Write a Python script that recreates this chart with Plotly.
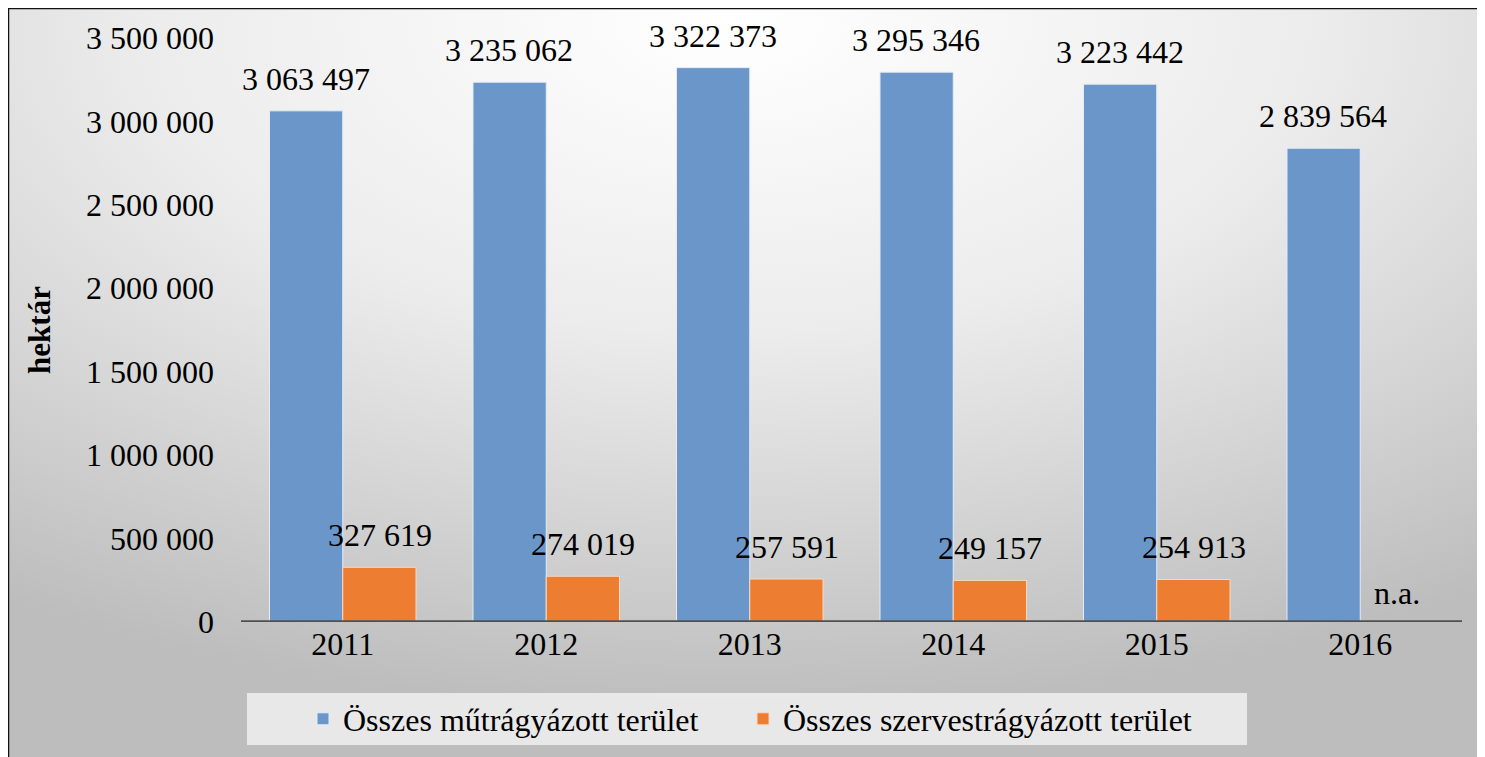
import base64
import plotly.graph_objects as go

years = ["2011", "2012", "2013", "2014", "2015", "2016"]
mutragya = [3063497, 3235062, 3322373, 3295346, 3223442, 2839564]
szerves = [327619, 274019, 257591, 249157, 254913, None]
name_mutragya = "Összes műtrágyázott terület"
name_szerves = "Összes szervestrágyázott terület"
ytick_vals = [0, 500000, 1000000, 1500000, 2000000, 2500000, 3000000, 3500000]

blue = "#6a96c9"
orange = "#ed7d31"
font = "Liberation Serif, Times New Roman, serif"

# the page body adds an 8px margin, so figure coords = screen coords - 8
OFF = 8
W, H = 1485, 757
plot_x0, plot_x1 = 241 - OFF, 1462 - OFF
plot_y0, plot_y1 = 38 - OFF, 622 - OFF
L, R, T, B = plot_x0, W - plot_x1, plot_y0, H - plot_y1
pw, ph = plot_x1 - plot_x0, plot_y1 - plot_y0


def px2paper(x, y):
    # screen pixel -> paper coords
    return (x - OFF - L) / pw, (plot_y1 - (y - OFF)) / ph


def fmt(v):
    return f"{v:,}".replace(",", " ")


# radial gradient background for the framed area
svg = (
    '<svg xmlns="http://www.w3.org/2000/svg" width="1000" height="500" preserveAspectRatio="none">'
    '<defs><radialGradient id="g" cx="0.47" cy="0.02" r="0.85" fx="0.47" fy="0.02">'
    '<stop offset="0" stop-color="#ffffff"/>'
    '<stop offset="0.45" stop-color="#ececec"/>'
    '<stop offset="1" stop-color="#bdbdbd"/>'
    '</radialGradient></defs>'
    '<rect width="1000" height="500" fill="url(#g)"/></svg>'
)
svg_uri = "data:image/svg+xml;base64," + base64.b64encode(svg.encode()).decode()

fig = go.Figure()
fig.add_trace(go.Bar(x=years, y=mutragya, name=name_mutragya, legend="legend",
                     marker=dict(color=blue, line=dict(color="#e6ecf5", width=1))))
fig.add_trace(go.Bar(x=years, y=szerves, name=name_szerves, legend="legend2",
                     marker=dict(color=orange, line=dict(color="#f7d9c4", width=1))))

# value labels (x given as category index so numeric-looking years are not misread)
annotations = []
for i, v in enumerate(mutragya):
    annotations.append(dict(x=i, y=v, text=fmt(v), showarrow=False, xshift=-37,
                            yanchor="bottom", yshift=12, font=dict(size=32, color="black")))
for i, v in enumerate(szerves):
    annotations.append(dict(x=i, y=v if v is not None else 0,
                            text=fmt(v) if v is not None else "n.a.",
                            showarrow=False, xshift=37,
                            yanchor="bottom", yshift=12 if v is not None else 9,
                            font=dict(size=32, color="black")))

fx0, fy0 = px2paper(8, 8)
fx1, fy1 = px2paper(W + 60, H + 60)
lx0, ly0 = px2paper(247, 693)
lx1, ly1 = px2paper(1247, 745)
leg1_x, leg_y = px2paper(303, 719)
leg2_x, _ = px2paper(743, 719)

legend_style = dict(orientation="h", xanchor="left", yanchor="middle", y=leg_y,
                    bgcolor="rgba(0,0,0,0)", font=dict(size=32), itemwidth=30)

fig.update_layout(
    width=W, height=H,
    margin=dict(l=L, r=R, t=T, b=B),
    paper_bgcolor="#f4f1e6",
    plot_bgcolor="rgba(0,0,0,0)",
    separators=", ",
    font=dict(family=font, size=32, color="black"),
    barmode="group",
    bargap=0.28,
    bargroupgap=0,
    showlegend=True,
    legend=dict(x=leg1_x, **legend_style),
    legend2=dict(x=leg2_x, **legend_style),
    xaxis=dict(type="category", range=[-0.5, len(years) - 0.5], autorange=False,
               showgrid=False, showline=False, ticks="", tickfont=dict(size=32)),
    yaxis=dict(range=[0, 3500000], autorange=False, tickvals=ytick_vals, tickformat=",d",
               showgrid=False, zeroline=False, showline=False, ticks="",
               ticklabelstandoff=26, tickfont=dict(size=32),
               title=dict(text="<b>hektár</b>", font=dict(size=31), standoff=26)),
    images=[dict(source=svg_uri, xref="paper", yref="paper", x=fx0, y=fy0,
                 sizex=fx1 - fx0, sizey=fy0 - fy1, sizing="stretch",
                 xanchor="left", yanchor="top", layer="below")],
    shapes=[
        dict(type="line", xref="paper", yref="paper", x0=fx0, y0=fy0, x1=fx1, y1=fy0,
             line=dict(color="#111111", width=2.5), layer="below"),
        dict(type="line", xref="paper", yref="paper", x0=fx0, y0=fy0, x1=fx0, y1=fy1,
             line=dict(color="#111111", width=2.5), layer="below"),
        dict(type="rect", xref="paper", yref="paper", x0=lx0, y0=ly1, x1=lx1, y1=ly0,
             line=dict(width=0), fillcolor="rgba(240,240,240,0.85)", layer="below"),
        dict(type="line", xref="paper", yref="y", x0=0, x1=1, y0=0, y1=0,
             line=dict(color="#505050", width=3.5)),
    ],
    annotations=annotations,
)

fig.write_html("out.html")
